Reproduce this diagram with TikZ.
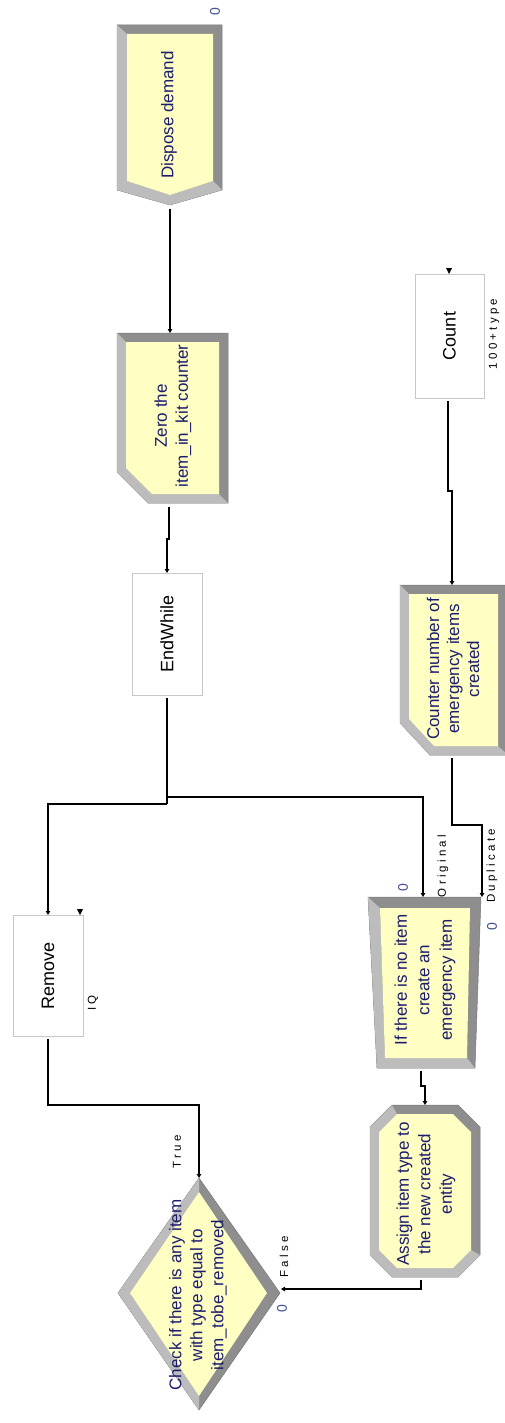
\documentclass[tikz,border=0pt]{standalone}
\usepackage{fontspec}
\setmainfont{Liberation Sans}
\newfontfamily\lblfont[LetterSpace=28]{Liberation Sans}
\usetikzlibrary{arrows.meta}
\definecolor{facey}{RGB}{255,255,196}
\definecolor{bevdark}{RGB}{142,142,142}
\definecolor{bevlight}{RGB}{188,188,188}
\definecolor{bevedge}{RGB}{120,120,120}
\definecolor{navytext}{RGB}{28,28,110}
\definecolor{zeroblue}{RGB}{70,80,150}
\definecolor{boxgray}{RGB}{200,200,200}
\begin{document}
\begin{tikzpicture}[x=1pt,y=-1pt,
  conn/.style={draw=black,line width=1.1pt,-{Triangle[length=4pt,width=4.5pt]}},
  darkband/.style={fill=bevdark,draw=bevedge,line width=0.5pt},
  lightband/.style={fill=bevlight},
  face/.style={fill=facey},
  ytext/.style={rotate=90,align=center,text=navytext,font=\fontsize{17}{21}\selectfont,inner sep=0pt},
  wbox/.style={rotate=90,draw=boxgray,fill=white,line width=0.7pt,font=\fontsize{18}{21}\selectfont,inner sep=0pt},
  lbl/.style={rotate=90,font=\lblfont\fontsize{11.5}{13}\selectfont,inner sep=0pt},
  zlbl/.style={rotate=90,text=zeroblue,font=\fontsize{14}{15}\selectfont,inner sep=0pt}]
\useasboundingbox (0,0) rectangle (505,1423);
\fill[white] (0,0) rectangle (505,1423);
\clip (0,0) rectangle (505,1423);

% ---------- Dispose demand ----------
\path[darkband] (117,25) -- (222,25) -- (222,190) -- (170,205) -- (117,190) -- cycle;
\fill[lightband] (117,25) -- (117,190) -- (170,205) -- (222,190) -- (213,181) -- (170,195) -- (127,181) -- (127,34) -- cycle;
\fill[face] (127,34) -- (213,34) -- (213,181) -- (170,195) -- (127,181) -- cycle;
\node[ytext] (dispose) at (169,115) {Dispose demand};
\node[zlbl] (zdisp) at (215,12) {0};

% ---------- Zero the item_in_kit counter ----------
\path[darkband] (117,333) -- (228,333) -- (228,503) -- (148,503) -- (117,472) -- cycle;
\fill[lightband] (117,333) -- (117,472) -- (148,503) -- (228,503) -- (219,494) -- (152,494) -- (126,468) -- (126,342) -- cycle;
\fill[face] (126,342) -- (219,342) -- (219,494) -- (152,494) -- (126,468) -- cycle;
\node[ytext] (zero) at (173,416) {Zero the\\item\_in\_kit counter};

% ---------- EndWhile ----------
\node[wbox,minimum width=122pt,minimum height=70pt] (endwhile) at (167,634) {EndWhile};

% ---------- Remove ----------
\node[wbox,minimum width=121pt,minimum height=70pt] (remove) at (48,975.5) {Remove};
\node[lbl] (iq) at (93,1003) {IQ};
\fill (77,909) -- (83,909) -- (80,915) -- cycle;

% ---------- Count ----------
\node[wbox,minimum width=124pt,minimum height=69pt] (count) at (449.5,336) {Count};
\node[lbl] (cexpr) at (494,334) {100+type};
\fill (446,268) -- (452,268) -- (449,274) -- cycle;

% ---------- Counter number of emergency items created ----------
\path[darkband] (400,585) -- (508,585) -- (508,755) -- (430,755) -- (400,723) -- cycle;
\fill[lightband] (400,585) -- (400,723) -- (430,755) -- (508,755) -- (498,746) -- (434,746) -- (409,719) -- (409,594) -- cycle;
\fill[face] (409,594) -- (498,594) -- (498,746) -- (434,746) -- (409,719) -- cycle;
\node[ytext,font=\fontsize{17}{20}\selectfont] (counter) at (453,669) {Counter number of\\emergency items\\created};

% ---------- If there is no item (Separate) ----------
\path[darkband] (368,897) -- (481,897) -- (475,1068) -- (377,1068) -- cycle;
\fill[lightband] (368,897) -- (377,1068) -- (475,1068) -- (467,1058) -- (385,1058) -- (380,908) -- cycle;
\fill[face] (380,908) -- (470,908) -- (467,1058) -- (385,1058) -- cycle;
\node[ytext,font=\fontsize{17}{22.5}\selectfont] (sep) at (425,980) {If there is no item\\create an\\emergency item};
\node[zlbl] (zsep1) at (403,888) {0};
\node[lbl] (orig) at (443,866) {Original};
\node[lbl] (dup) at (492,866) {Duplicate};
\node[zlbl] (zsep2) at (492,927) {0};

% ---------- Assign item type ----------
\path[darkband] (392,1105) -- (458,1105) -- (480,1127) -- (480,1255) -- (458,1277) -- (392,1277) -- (370,1255) -- (370,1127) -- cycle;
\fill[lightband] (392,1105) -- (370,1127) -- (370,1255) -- (392,1277) -- (458,1277) -- (480,1255) -- (471,1250) -- (453,1268) -- (397,1268) -- (379,1250) -- (379,1132) -- (397,1114) -- cycle;
\fill[face] (397,1114) -- (453,1114) -- (471,1132) -- (471,1250) -- (453,1268) -- (397,1268) -- (379,1250) -- (379,1132) -- cycle;
\node[ytext,font=\fontsize{17}{21.5}\selectfont] (assign) at (426,1194) {Assign item type to\\the new created\\entity};

% ---------- Decide diamond ----------
\path[darkband] (199,1178) -- (280,1293) -- (199,1410) -- (118,1293) -- cycle;
\fill[lightband] (199,1178) -- (118,1293) -- (199,1410) -- (199,1396) -- (130,1293) -- (199,1192) -- cycle;
\fill[face] (199,1192) -- (267,1293) -- (199,1396) -- (130,1293) -- cycle;
\node[ytext] (decide) at (198,1295) {Check if there is any item\\with type equal to\\item\_tobe\_removed};
\node[lbl] (ltrue) at (177,1152) {True};
\node[lbl] (lfalse) at (284,1257) {False};
\node[zlbl] (zdec) at (282,1309) {0};

% ---------- ports ----------
\coordinate (dispB) at (170,209);
\coordinate (zeroT) at (170,333);
\coordinate (zeroB) at (169,507);
\coordinate (ewT) at (167,573);
\coordinate (ewB) at (167,698);
\coordinate (jR) at (167,797);
\coordinate (jL) at (167,804);
\coordinate (remT) at (48,915);
\coordinate (sepT1) at (423,897);
\coordinate (sepT2) at (482,897);
\coordinate (remB) at (48,1039);
\coordinate (decT) at (199,1178);
\coordinate (sepB) at (421,1071);
\coordinate (asgT) at (425,1105);
\coordinate (asgB) at (421,1280);
\coordinate (decR) at (281,1289);
\coordinate (countB) at (448,401);
\coordinate (ctrT) at (452,585);
\coordinate (ctrB) at (452,758);

% ---------- connectors ----------
\draw[conn] (dispB) -- (zeroT);
\draw[conn] (zeroB) -- ++(0,32) -| (ewT);
\draw[line width=1.1pt] (ewB) -- (jL);
\draw[conn] (jR) -| (sepT1);
\draw[conn] (jL) -| (remT);
\draw[conn] (remB) -- ++(0,66) -| (decT);
\draw[conn] (sepB) -- ++(0,15) -| (asgT);
\draw[conn] (asgB) |- (decR);
\draw[conn] (countB) -- ++(0,90) -| (ctrT);
\draw[conn] (ctrB) -- ++(0,67) -| (sepT2);
\end{tikzpicture}
\end{document}
